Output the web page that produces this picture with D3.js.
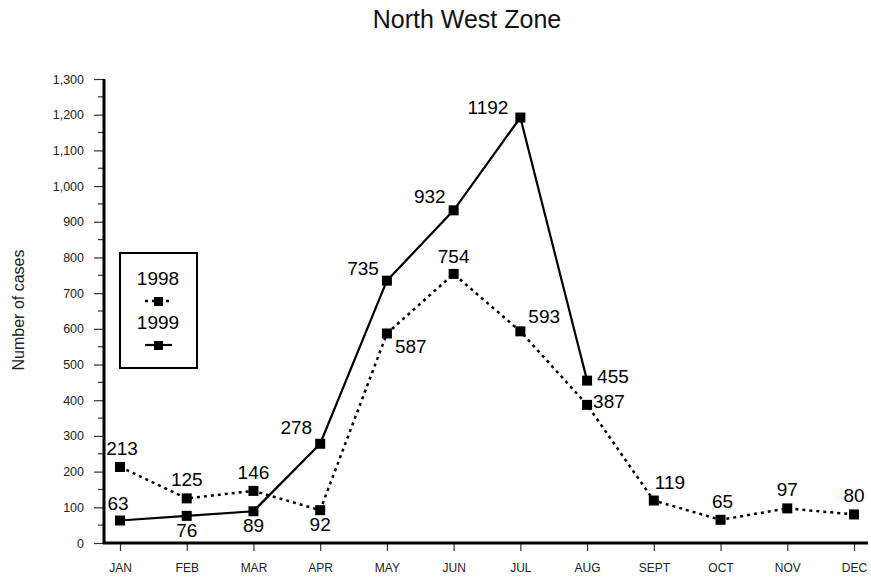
<!DOCTYPE html>
<html>
<head>
<meta charset="utf-8">
<script src="https://cdn.jsdelivr.net/npm/d3@7"></script>
<style>
  html, body { margin: 0; padding: 0; background: #fff; }
  svg { display: block; font-family: Arial, "Liberation Sans", sans-serif; }
</style>
</head>
<body>
<svg id="chart" width="871" height="582"></svg>
<script>
const months = ["JAN","FEB","MAR","APR","MAY","JUN","JUL","AUG","SEPT","OCT","NOV","DEC"];
const values1998 = [213,125,146,92,587,754,593,387,119,65,97,80];
const values1999 = [63,76,89,278,735,932,1192,455];
const yTicks = [0,100,200,300,400,500,600,700,800,900,1000,1100,1200,1300];
// label placement per point: [dx, dy, anchor]
const labelPos1998 = [[2,-12,"middle"],[0,-12,"middle"],[0,-12,"middle"],[0,21,"middle"],[8,20,"start"],[0,-11,"middle"],[8,-8,"start"],[6,3,"start"],[1,-12,"start"],[2,-12,"middle"],[0,-12,"middle"],[0,-12,"middle"]];
const labelPos1999 = [[-2,-11,"middle"],[0,21,"middle"],[0,21,"middle"],[-8,-10,"end"],[-8,-6,"end"],[-8,-7,"end"],[-12,-4,"end"],[10,2,"start"]];

const svg = d3.select("#chart");
const x = d3.scalePoint().domain(months).range([120, 854]);
const y = d3.scaleLinear().domain([0, 1300]).range([543, 79]);

// Title
svg.append("text").attr("x", 467).attr("y", 28).attr("text-anchor", "middle")
  .attr("font-size", 25).attr("fill", "#111").text("North West Zone");

// Y axis label
svg.append("text").attr("transform", "translate(24,310) rotate(-90)")
  .attr("text-anchor", "middle").attr("font-size", 16).attr("fill", "#222").text("Number of cases");

// Y axis
const yAxis = d3.axisLeft(y).tickValues(yTicks).tickSize(10).tickPadding(10).tickFormat(d3.format(","));
const gy = svg.append("g").attr("transform", "translate(104,0)").call(yAxis);
gy.select(".domain").remove();
gy.selectAll(".tick line").attr("stroke", "#333").attr("stroke-width", 1.2);
gy.selectAll(".tick text").attr("font-size", 12.5).attr("fill", "#222").attr("font-family", "Arial, 'Liberation Sans', sans-serif");
// minor ticks
const minor = d3.range(50, 1300, 100);
svg.append("g").selectAll("line").data(minor).join("line")
  .attr("x1", 98).attr("x2", 104).attr("y1", d => y(d)).attr("y2", d => y(d))
  .attr("stroke", "#333").attr("stroke-width", 1.2);
svg.append("line").attr("x1", 104).attr("x2", 104).attr("y1", y(1300)).attr("y2", y(0) + 1)
  .attr("stroke", "#000").attr("stroke-width", 3);

// X axis
const xAxis = d3.axisBottom(x).tickSize(8).tickPadding(12);
const gx = svg.append("g").attr("transform", "translate(0,543)").call(xAxis);
gx.select(".domain").remove();
gx.selectAll(".tick line").attr("stroke", "#333").attr("stroke-width", 1.2);
gx.selectAll(".tick text").attr("font-size", 12).attr("fill", "#222").attr("font-family", "Arial, 'Liberation Sans', sans-serif");
svg.append("line").attr("x1", 103).attr("x2", 868).attr("y1", 543).attr("y2", 543)
  .attr("stroke", "#000").attr("stroke-width", 3);

const line = d3.line().x(d => x(d.m)).y(d => y(d.v));
const d1998 = values1998.map((v, i) => ({m: months[i], v, p: labelPos1998[i]}));
const d1999 = values1999.map((v, i) => ({m: months[i], v, p: labelPos1999[i]}));

svg.append("path").datum(d1998).attr("d", line).attr("fill", "none")
  .attr("stroke", "#000").attr("stroke-width", 2.5).attr("stroke-dasharray", "3,4");
svg.append("path").datum(d1999).attr("d", line).attr("fill", "none")
  .attr("stroke", "#000").attr("stroke-width", 2.2);

const ms = 10;
[d1998, d1999].forEach(ds => {
  svg.append("g").selectAll("rect").data(ds).join("rect")
    .attr("x", d => x(d.m) - ms/2).attr("y", d => y(d.v) - ms/2)
    .attr("width", ms).attr("height", ms).attr("fill", "#000");
  svg.append("g").selectAll("text").data(ds).join("text")
    .attr("x", d => x(d.m) + d.p[0]).attr("y", d => y(d.v) + d.p[1])
    .attr("text-anchor", d => d.p[2]).attr("font-size", 19).attr("fill", "#000")
    .text(d => d.v);
});

// Legend
const lg = svg.append("g");
lg.append("rect").attr("x", 120).attr("y", 253).attr("width", 77).attr("height", 115)
  .attr("fill", "#fff").attr("stroke", "#000").attr("stroke-width", 2);
lg.append("text").attr("x", 158).attr("y", 285).attr("text-anchor", "middle").attr("font-size", 19).text("1998");
lg.append("line").attr("x1", 145).attr("x2", 172).attr("y1", 301).attr("y2", 301)
  .attr("stroke", "#000").attr("stroke-width", 2.5).attr("stroke-dasharray", "3,4");
lg.append("rect").attr("x", 154).attr("y", 297).attr("width", 9).attr("height", 9).attr("fill", "#000");
lg.append("text").attr("x", 158).attr("y", 329).attr("text-anchor", "middle").attr("font-size", 19).text("1999");
lg.append("line").attr("x1", 145).attr("x2", 172).attr("y1", 345).attr("y2", 345)
  .attr("stroke", "#000").attr("stroke-width", 2.2);
lg.append("rect").attr("x", 154).attr("y", 341).attr("width", 9).attr("height", 9).attr("fill", "#000");
</script>
</body>
</html>
